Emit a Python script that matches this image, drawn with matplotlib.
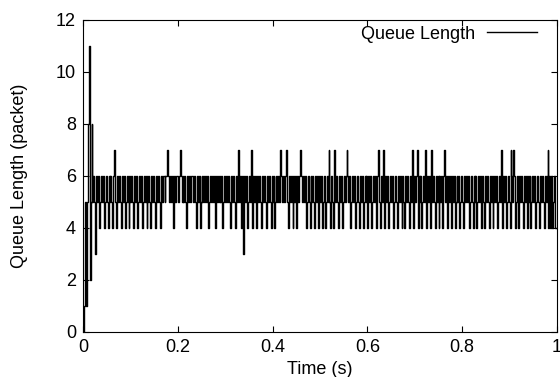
import numpy as np
import matplotlib
matplotlib.use("Agg")
import matplotlib.pyplot as plt

plt.rcParams['font.family'] = ['Liberation Sans', 'DejaVu Sans']

dt = 0.002
q_start = [0, 1, 5, 1, 5, 8, 11, 2, 5, 8]          # first 20 ms (startup burst)
q_rest = (
    "5653656456" "5645654656" "5467546565" "4656456546" "5654656456"
    "5645656456" "5465654656" "5465665667" "6565646566" "5676565654"
    "6565665654" "6564565656" "5645656564" "6565656456" "5656546565"
    "4656756463" "6564565746" "5654656546" "5654656546" "5645656576"
    "5656754656" "5465646567" "6565645654" "6565465646" "5645645657"
    "5465475654" "6564565676" "5645656456" "5465645656" "4656456564"
    "6754657646" "5645656456" "5465654654" "6565465746" "5674656456"
    "5746564756" "5465646564" "6756465646" "5645656456" "5465656456"
    "5465645656" "4654656546" "5645656456" "5746564565" "4765764564"
    "6565465646" "5645656456" "5465654656" "7464645644" "4"
)

queue = q_start + [int(c) for c in q_rest]
time = np.arange(len(queue)) * dt

xticks = [0, 0.2, 0.4, 0.6, 0.8, 1.0]
xtick_labels = ["0", "0.2", "0.4", "0.6", "0.8", "1"]
yticks = [0, 2, 4, 6, 8, 10, 12]

fig = plt.figure(figsize=(5.6, 3.77), dpi=100)
ax = fig.add_axes([83 / 560, 1 - 332 / 377, (557 - 83) / 560, (332 - 20) / 377])

ax.plot(time, queue, color="black", lw=1.0, drawstyle="steps-post",
        label="Queue Length")

ax.set_xlim(0, 1)
ax.set_ylim(0, 12)
ax.set_xticks(xticks)
ax.set_xticklabels(xtick_labels)
ax.set_yticks(yticks)
ax.tick_params(direction="in", length=4.5, width=0.8, top=True, right=True,
               labelsize=13, pad=5)
for s in ax.spines.values():
    s.set_linewidth(0.8)

ax.set_xlabel("Time (s)", fontsize=13, labelpad=4)
ax.set_ylabel("Queue Length (packet)", fontsize=13, labelpad=20)

ax.legend(loc="center right", bbox_to_anchor=(0.958, 0.955), frameon=False,
          markerfirst=False, fontsize=13, handlelength=2.8, handletextpad=0.65,
          borderaxespad=0, borderpad=0)

fig.savefig("out.png", dpi=100)
